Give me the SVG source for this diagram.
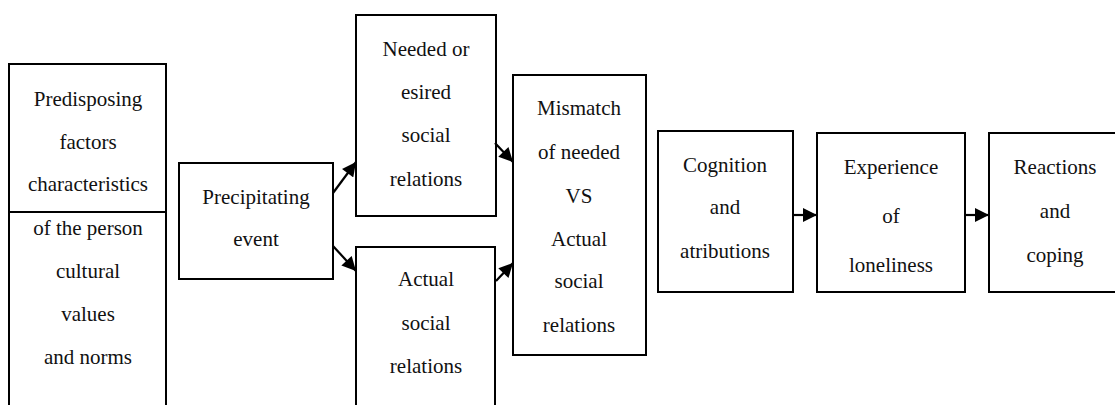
<svg xmlns="http://www.w3.org/2000/svg" width="1115" height="405" viewBox="0 0 1115 405">
<style>
.box{fill:#fff;stroke:#000;stroke-width:2}
.c{stroke:#000;stroke-width:2.2;fill:none}
</style>
<defs>
<marker id="ah" viewBox="0 0 10 10" refX="10" refY="5" markerWidth="15" markerHeight="14" markerUnits="userSpaceOnUse" orient="auto">
<path d="M0,0 L10,5 L0,10 z" fill="#000"/>
</marker>
</defs>
<rect width="1115" height="405" fill="#fff"/>
<g font-family="Liberation Serif, Times New Roman, serif" font-size="21" fill="#111" text-anchor="middle">
<g id="predisposing">
<rect class="box" x="9" y="64" width="157" height="360"/>
<line x1="9" y1="212" x2="166" y2="212" stroke="#000" stroke-width="2"/>
<text x="88" y="106">Predisposing</text>
<text x="88" y="149">factors</text>
<text x="88" y="191">characteristics</text>
<text x="88" y="235">of the person</text>
<text x="88" y="278">cultural</text>
<text x="88" y="321">values</text>
<text x="88" y="364">and norms</text>
</g>
<g id="precipitating">
<rect class="box" x="179" y="163" width="154" height="116"/>
<text x="256" y="204">Precipitating</text>
<text x="256" y="246">event</text>
</g>
<g id="needed">
<rect class="box" x="356" y="15" width="140" height="201"/>
<text x="426" y="56">Needed or</text>
<text x="426" y="99">esired</text>
<text x="426" y="142">social</text>
<text x="426" y="186">relations</text>
</g>
<g id="actual">
<rect class="box" x="356" y="247" width="139" height="180"/>
<text x="426" y="286">Actual</text>
<text x="426" y="330">social</text>
<text x="426" y="373">relations</text>
</g>
<g id="mismatch">
<rect class="box" x="513" y="75" width="133" height="280"/>
<text x="579" y="115">Mismatch</text>
<text x="579" y="159">of needed</text>
<text x="579" y="203">VS</text>
<text x="579" y="246">Actual</text>
<text x="579" y="288">social</text>
<text x="579" y="332">relations</text>
</g>
<g id="cognition">
<rect class="box" x="658" y="131" width="135" height="161"/>
<text x="725" y="172">Cognition</text>
<text x="725" y="214">and</text>
<text x="725" y="258">atributions</text>
</g>
<g id="experience">
<rect class="box" x="817" y="133" width="148" height="159"/>
<text x="891" y="174">Experience</text>
<text x="891" y="223">of</text>
<text x="891" y="272">loneliness</text>
</g>
<g id="reactions">
<rect class="box" x="989" y="133" width="140" height="159"/>
<text x="1055" y="174">Reactions</text>
<text x="1055" y="218">and</text>
<text x="1055" y="262">coping</text>
</g>
</g>
<g id="connectors">
<line class="c" x1="333" y1="193" x2="356" y2="162" marker-end="url(#ah)"/>
<line class="c" x1="333" y1="246" x2="356" y2="271" marker-end="url(#ah)"/>
<line class="c" x1="495" y1="143" x2="513" y2="162" marker-end="url(#ah)"/>
<line class="c" x1="496" y1="281" x2="513" y2="263" marker-end="url(#ah)"/>
<line class="c" x1="793" y1="215" x2="817" y2="215" marker-end="url(#ah)"/>
<line class="c" x1="965" y1="215" x2="989" y2="215" marker-end="url(#ah)"/>
</g>
</svg>
